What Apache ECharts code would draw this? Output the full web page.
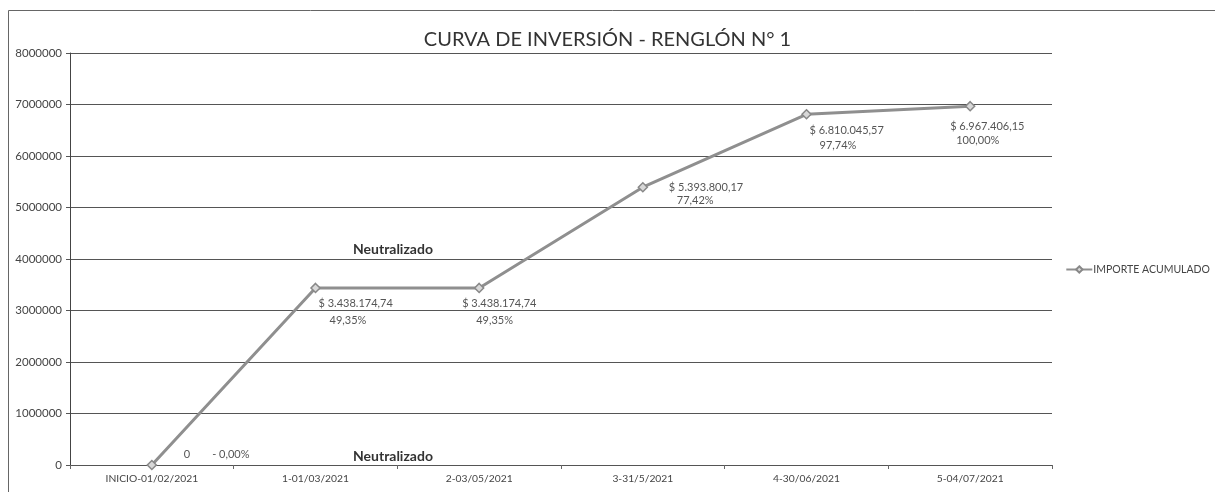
<!DOCTYPE html>
<html><head><meta charset="utf-8">
<script src="https://cdn.jsdelivr.net/npm/echarts@6/dist/echarts.min.js"></script>
<style>html,body{margin:0;padding:0;background:#fff}#c{width:1215px;height:492px}</style>
</head><body><div id="c"></div>
<script>
const categories = ['INICIO-01/02/2021','1-01/03/2021','2-03/05/2021','3-31/5/2021','4-30/06/2021','5-04/07/2021'];
const values = [0, 3438174.74, 3438174.74, 5393800.17, 6810045.57, 6967406.15];
const amountLabels = ['0','$ 3.438.174,74','$ 3.438.174,74','$ 5.393.800,17','$ 6.810.045,57','$ 6.967.406,15'];
const pctLabels = ['- 0,00%','49,35%','49,35%','77,42%','97,74%','100,00%'];
const seriesName = 'IMPORTE ACUMULADO';
const titleText = 'CURVA DE INVERSIÓN - RENGLÓN N° 1';
const noteText = 'Neutralizado';

// label placement per point (style only)
const labelStyles = [
  {offset:[32,-28], lh:14, pad:22, row:true},
  {offset:[3,-3], lh:17, pad:11},
  {offset:[-17,-3], lh:17, pad:14},
  {offset:[26,-17], lh:13, pad:8},
  {offset:[3,-2], lh:15, pad:10},
  {offset:[-20,3.5], lh:14, pad:6}
];

const font = 'Lato, "Open Sans", "Liberation Sans", sans-serif';
const chart = echarts.init(document.getElementById('c'));
const data = values.map((v,i)=>{
  const s = labelStyles[i];
  return {
    value: v,
    label: {
      show: true,
      position: 'bottom',
      align: 'left',
      verticalAlign: 'top',
      offset: s.offset,
      color: '#555',
      fontSize: 11,
      fontFamily: font,
      lineHeight: s.lh,
      formatter: s.row ? ('{a|' + amountLabels[i] + '}{b|' + pctLabels[i] + '}') : ('{a|' + amountLabels[i] + '}\n{b|' + pctLabels[i] + '}'),
      rich: {
        a:{fontSize:11,color:'#555',lineHeight:s.lh,fontFamily:font},
        b:{fontSize:11,color:'#555',lineHeight:s.lh,fontFamily:font,padding:[0,0,0,s.pad]}
      }
    }
  };
});
chart.setOption({
  animation: false,
  backgroundColor: '#fff',
  title: {text: titleText, left: 'center', top: 25, textStyle:{fontSize:20, fontWeight:'normal', color:'#333', fontFamily: font}},
  grid: {left: 70, right: 163, top: 53, bottom: 27},
  legend: {
    data: [seriesName], right: 0, top: 259, orient:'vertical',
    itemWidth: 26, itemHeight: 8, itemGap: 4,
    textStyle: {fontSize: 10.5, color:'#444', fontFamily: font, padding:[0,0,0,-4]}
  },
  xAxis: {
    type: 'category', data: categories, boundaryGap: true,
    axisLine: {lineStyle:{color:'#555', width:1}},
    axisTick: {show:true, length:4, lineStyle:{color:'#666'}},
    axisLabel: {fontSize:10.3, color:'#444', margin:9, fontFamily: font}
  },
  yAxis: {
    type: 'value', min: 0, max: 8000000, interval: 1000000,
    axisLine: {show:true, lineStyle:{color:'#444', width:1}},
    axisTick: {show:true, length:4, lineStyle:{color:'#555'}},
    axisLabel: {fontSize:11.5, color:'#444', margin:8, fontFamily: font, formatter: v => String(v)},
    splitLine: {lineStyle:{color:'#555', width:1}}
  },
  series: [{
    name: seriesName, type: 'line', data: data,
    symbol: 'diamond', symbolSize: 9,
    lineStyle: {color:'#8f8f8f', width:3},
    itemStyle: {color:'#d8d8d8', borderColor:'#888', borderWidth:1.5}
  }],
  graphic: [
    {type:'rect', shape:{x:8.5, y:10.5, width:1300, height:600}, style:{fill:'none', stroke:'#666', lineWidth:1}, silent:true, z:-1},
    {type:'text', left:353, top:242, style:{text:noteText, font:'bold 14px ' + font, fill:'#333'}},
    {type:'text', left:353, top:449, style:{text:noteText, font:'bold 14px ' + font, fill:'#333'}}
  ]
});
</script></body></html>
